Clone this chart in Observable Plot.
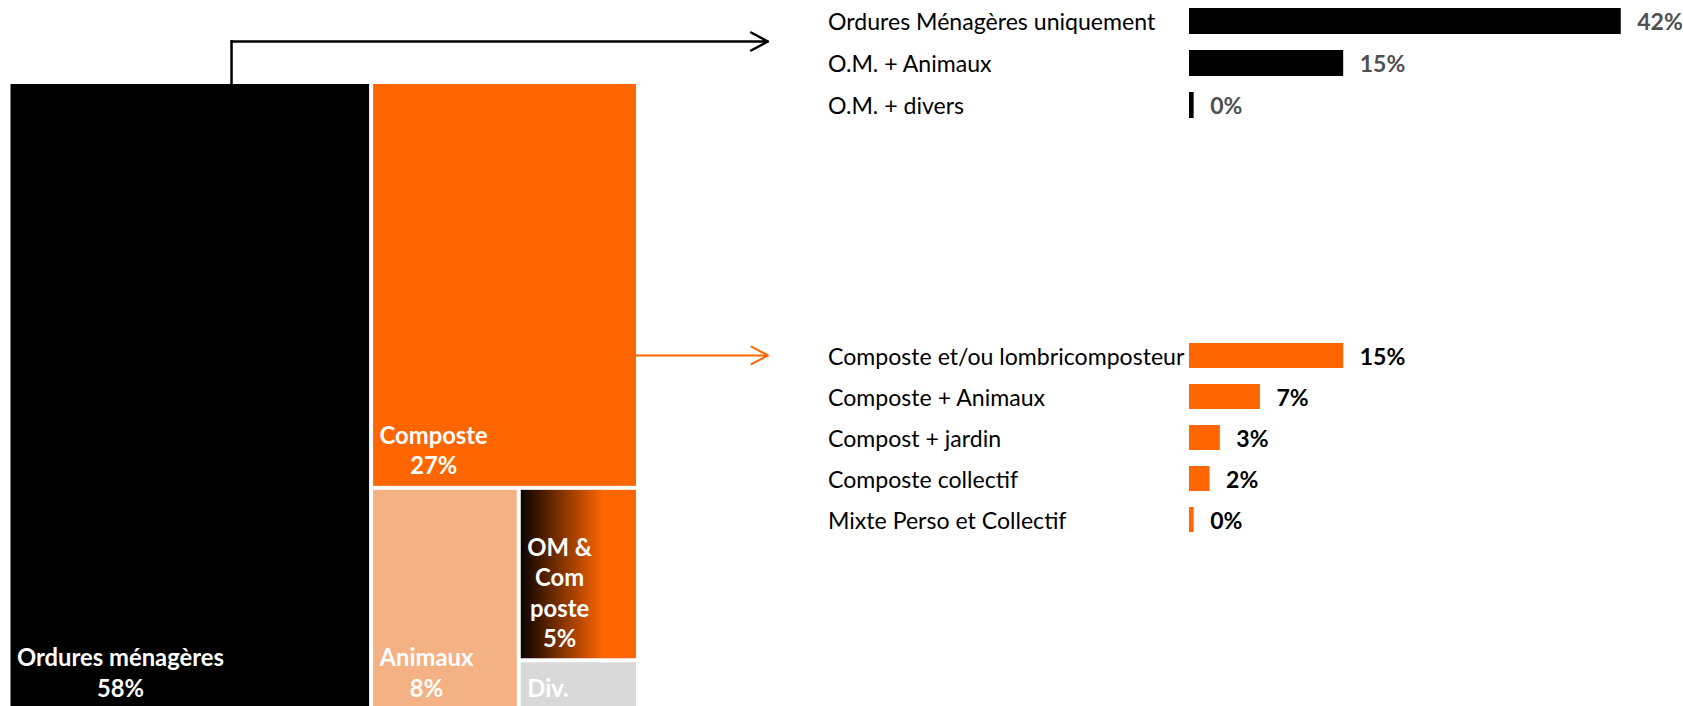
<!DOCTYPE html>
<html>
<head>
<meta charset="utf-8">
<script src="https://cdn.jsdelivr.net/npm/d3@7"></script>
<script src="https://cdn.jsdelivr.net/npm/@observablehq/plot@0.6"></script>
<style>
  html, body { margin: 0; padding: 0; background: #ffffff; }
  #chart { position: relative; width: 1683px; height: 706px; overflow: hidden; background: #ffffff; }
  #chart svg { position: absolute; overflow: visible; max-width: none; }
</style>
</head>
<body>
<div id="chart"></div>
<script>
// ---------- DATA ----------
const cellNames = ["Ordures ménagères", "Composte", "Animaux", "OM & Composte", "Div."];
const cellLabels = ["Ordures ménagères\n58%", "Composte\n27%", "Animaux\n8%", "OM &\nCom\nposte\n5%", "Div."];
const cellValues = [57.6, 27.4, 8.3, 5.2, 1.5];

const omCategories = ["Ordures Ménagères uniquement", "O.M. + Animaux", "O.M. + divers"];
const omValues = [42, 15, 0.45];

const compostCategories = ["Composte et/ou lombricomposteur", "Composte + Animaux", "Compost + jardin", "Composte collectif", "Mixte Perso et Collectif"];
const compostValues = [15, 6.9, 3, 2, 0.45];

// ---------- STYLE / LAYOUT ----------
const FONT = "Lato, 'Open Sans', 'DejaVu Sans', sans-serif";
const ORANGE = "#ff6600";
const cellFill = {
  "Ordures ménagères": "#000000",
  "Composte": ORANGE,
  "Animaux": "#f4b183",
  "OM & Composte": "url(#omc-grad)",
  "Div.": "#d9d9d9"
};
const TM = {x: 10.5, y: 84, w: 625.5, h: 624, pad: 6, font: 23.8, lineHeight: 1.27};
const BAR = {left: 800, width: 883, marginLeft: 389, pxPerUnit: 10.28, labelX: 27.5,
             catFont: 23.1, valFont: 23, pInner: 0.38, pOuter: 0.19};
const TOP = {top: 0, height: 127};
const BOT = {top: 333, height: 209};
const fmt = d3.format(".0%");
const xMax = d3.max(omValues);

const chart = document.getElementById("chart");

function bandCenter(n, height, i) {
  const step = height / (n - BAR.pInner + 2 * BAR.pOuter);
  return step * BAR.pOuter + step * i + step * (1 - BAR.pInner) / 2;
}

function barChart(cats, vals, box, fill, valueColor) {
  const data = cats.map((c, i) => ({c, v: vals[i]}));
  const marginRight = BAR.width - BAR.marginLeft - xMax * BAR.pxPerUnit;
  const svg = Plot.plot({
    width: BAR.width,
    height: box.height,
    marginLeft: BAR.marginLeft,
    marginRight,
    marginTop: 0,
    marginBottom: 0,
    style: {fontFamily: FONT, background: "transparent", overflow: "visible"},
    x: {domain: [0, xMax], axis: null},
    y: {domain: cats, axis: null, paddingInner: BAR.pInner, paddingOuter: BAR.pOuter},
    marks: [
      Plot.barX(data, {x: "v", y: "c", fill}),
      Plot.text(data, {y: "c", text: "c", frameAnchor: "left", textAnchor: "start",
        dx: BAR.labelX - BAR.marginLeft, dy: 1.5, fontSize: BAR.catFont, fill: "#000000"}),
      Plot.text(data, {x: "v", y: "c", text: d => fmt(d.v / 100), dx: 16, dy: 1.5, textAnchor: "start",
        fontSize: BAR.valFont, fontWeight: "bold", fill: valueColor})
    ]
  });
  svg.style.left = BAR.left + "px";
  svg.style.top = box.top + "px";
  return svg;
}

// ---------- TREEMAP ----------
const root = d3.treemap()
  .tile(d3.treemapBinary)
  .size([TM.w, TM.h])
  .paddingInner(4)(
    d3.hierarchy({children: cellNames.map((n, i) => ({name: n, label: cellLabels[i], value: cellValues[i]}))})
      .sum(d => d.value)
      .sort((a, b) => b.value - a.value)
  );

const ctx = document.createElement("canvas").getContext("2d");
ctx.font = `bold ${TM.font}px ${FONT}`;
const leaves = root.leaves().map(l => {
  const lines = l.data.label.split("\n");
  const w = d3.max(lines, s => ctx.measureText(s).width);
  const x0 = TM.x + l.x0, x1 = TM.x + l.x1, y0 = TM.y + l.y0, y1 = TM.y + l.y1;
  return {name: l.data.name, label: l.data.label, x0, x1, y0, y1,
          tx: x0 + TM.pad + w / 2, ty: y1 - 12};
});

const om = leaves.find(d => d.name === cellNames[0]);
const comp = leaves.find(d => d.name === cellNames[1]);
const arrowEndX = BAR.left + BAR.labelX - 60;
const topArrowY = om.y0 / 2 - 1;
const compArrowY = BOT.top + bandCenter(compostCategories.length, BOT.height, 0) + 1;
const elbowX = om.x0 + (om.x1 - om.x0) * 0.615;

const gradient = () => {
  const defs = document.createElementNS("http://www.w3.org/2000/svg", "defs");
  defs.innerHTML = `<linearGradient id="omc-grad" x1="0" x2="1" y1="0" y2="0">
    <stop offset="0" stop-color="#0a0200"/><stop offset="0.72" stop-color="${ORANGE}"/><stop offset="1" stop-color="${ORANGE}"/>
  </linearGradient>`;
  return defs;
};

const treemapSvg = Plot.plot({
  width: 1683,
  height: 706,
  margin: 0,
  style: {fontFamily: FONT, background: "transparent", overflow: "visible"},
  x: {type: "identity", axis: null},
  y: {type: "identity", axis: null},
  color: {type: "identity"},
  marks: [
    gradient,
    Plot.rect(leaves, {x1: "x0", x2: "x1", y1: "y0", y2: "y1", fill: d => cellFill[d.name]}),
    Plot.text(leaves, {x: "tx", y: "ty", text: "label", textAnchor: "middle", lineAnchor: "bottom",
      lineHeight: TM.lineHeight, fontSize: TM.font, fontWeight: "bold", fill: "#ffffff"}),
    Plot.link([{x1: elbowX, y1: om.y0, x2: elbowX, y2: topArrowY}],
      {x1: "x1", y1: "y1", x2: "x2", y2: "y2", stroke: "#000000", strokeWidth: 2.5, strokeLinecap: "square"}),
    Plot.arrow([{x1: elbowX, y1: topArrowY, x2: arrowEndX, y2: topArrowY}],
      {x1: "x1", y1: "y1", x2: "x2", y2: "y2", stroke: "#000000", strokeWidth: 2.5, headAngle: 56, headLength: 11.5}),
    Plot.arrow([{x1: comp.x1, y1: compArrowY, x2: arrowEndX, y2: compArrowY}],
      {x1: "x1", y1: "y1", x2: "x2", y2: "y2", stroke: ORANGE, strokeWidth: 2, headAngle: 56, headLength: 14})
  ]
});
treemapSvg.style.left = "0px";
treemapSvg.style.top = "0px";
chart.appendChild(treemapSvg);

chart.appendChild(barChart(omCategories, omValues, TOP, "#000000", "#505050"));
chart.appendChild(barChart(compostCategories, compostValues, BOT, ORANGE, "#000000"));
</script>
</body>
</html>
